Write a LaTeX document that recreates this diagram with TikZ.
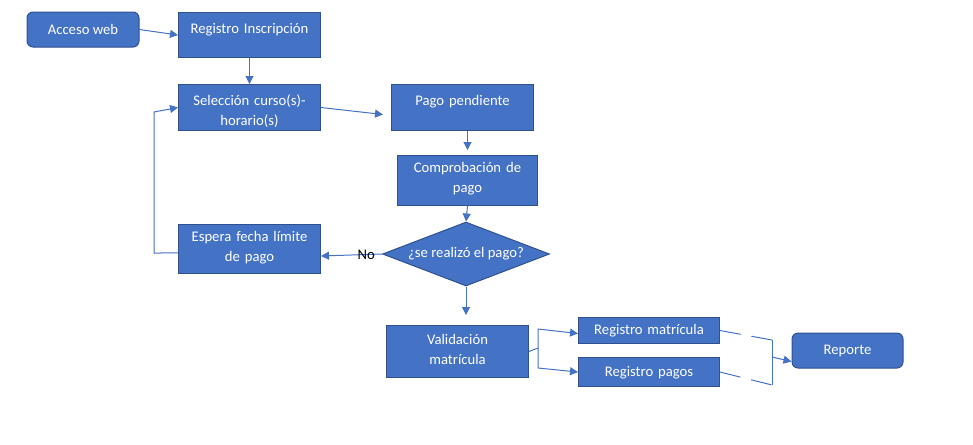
\documentclass[tikz,border=0pt]{standalone}
\usepackage{fontspec}
\setmainfont{Carlito}
\usetikzlibrary{arrows.meta,shapes.geometric,calc}
\definecolor{boxfill}{HTML}{4472C4}
\definecolor{boxline}{HTML}{2F528F}

\begin{document}
\begin{tikzpicture}[x=0.75pt,y=-0.75pt,
  font=\fontsize{11}{15}\selectfont,
  box/.style={draw=boxline, fill=boxfill, text=white, line width=0.75pt,
    inner sep=0pt, align=center, anchor=north west, text width=106.5pt},
  roundbox/.style={draw=boxline, fill=boxfill, text=white, line width=0.75pt,
    rounded corners=4.5pt, inner sep=0pt, minimum width=84pt, minimum height=26.25pt},
  decision/.style={diamond, draw=boxline, fill=boxfill, text=white, line width=0.75pt,
    inner sep=0pt, aspect=2.6, minimum width=125.25pt, minimum height=48pt},
  flow/.style={draw=boxfill, line width=0.75pt, -{Triangle[length=6pt,width=6pt]}},
  link/.style={draw=boxfill, line width=0.75pt},
  gap/.style={link, dash pattern=on 15.75pt off 8.25pt}]

\useasboundingbox (0,0) rectangle (973,444);

\node[roundbox] (acceso) at (83,29.5) {Acceso web};
\node[box, text height=15.4pt, text depth=18.4pt] (registro) at (178,12) {Registro Inscripción};
\node[box, text height=16.1pt, text depth=18.4pt] (seleccion) at (178,84) {Selección curso(s)-\\horario(s)};
\node[box, text height=16.1pt, text depth=18.4pt] (pago) at (391,84) {Pago pendiente};
\node[box, text width=105pt, text height=13.1pt, text depth=24.4pt] (comprob) at (397,155) {Comprobación de\\pago};
\node[decision] (dec) at (466,254) {¿se realizó el pago?};
\node[box, text height=13.1pt, text depth=23.6pt] (espera) at (178,224) {Espera fecha límite\\de pago};
\node[box, text height=14.6pt, text depth=24.4pt] (validacion) at (386,325) {Validación\\matrícula};
\node[box, text width=105.75pt, text height=12.4pt, text depth=7.1pt] (regmat) at (578,317) {Registro matrícula};
\node[box, text width=105.75pt, text height=13.9pt, text depth=7.9pt] (regpag) at (578,357) {Registro pagos};
\node[roundbox, minimum width=83.25pt] (reporte) at (847.5,350.5) {Reporte};

\coordinate (loopbot) at (154,253);
\coordinate (looptop) at (154,112);
\coordinate (bmid) at (538,348);
\coordinate (btop) at (538,329);
\coordinate (bbot) at (538,368);
\coordinate (jtop) at (772,340);
\coordinate (jmid) at (772,357);
\coordinate (jbot) at (772,385);

\draw[flow] (acceso.east) -- (registro.west);
\draw[flow] (registro.south) -- (seleccion.north);
\draw[flow] (seleccion.east) -- ($(pago.west)+(-8,7)$);
\draw[flow, shorten >=3.75pt] ($(pago.south)+(5,0)$) -- (comprob.north);
\draw[flow] (comprob.south) -- (dec.north);
\draw[flow, shorten >=7.5pt] (dec.south) -- (dec.south |- validacion.north);
\draw[flow] (dec.west) -- ($(espera.east)+(0,7)$) node[pos=0.26, text=black, inner sep=0pt] {No};
\draw[flow] ($(espera.west)+(0,4)$) -- (loopbot) -- (looptop) -- (seleccion.west);

\draw[link] (validacion.east) -- (bmid);
\draw[flow] (bmid) -- (btop) -- ($(regmat.west)+(0,3)$);
\draw[flow] (bmid) -- (bbot) -- (regpag.west);
\draw[gap] (regmat.east) -- (jtop);
\draw[gap] (regpag.east) -- (jbot);
\draw[link] (jtop) -- (jbot);
\draw[flow] (jmid) -- ($(reporte.west)+(0,11)$);

\end{tikzpicture}
\end{document}
